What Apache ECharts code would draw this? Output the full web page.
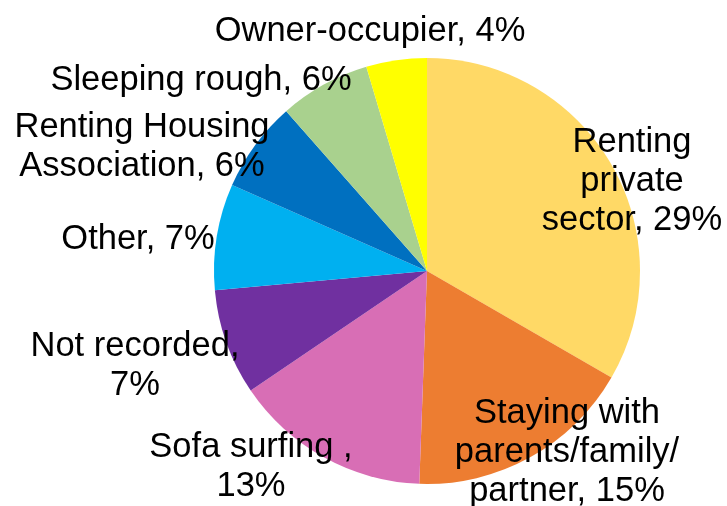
<!DOCTYPE html>
<html>
<head>
<meta charset="utf-8">
<script src="https://cdn.jsdelivr.net/npm/echarts@6/dist/echarts.min.js"></script>
<style>
html,body{margin:0;padding:0;background:#fff;}
#chart{width:727px;height:506px;}
</style>
</head>
<body>
<div id="chart"></div>
<script>
// Data
var categories = ['Renting\nprivate\nsector', 'Staying with\nparents/family/\npartner', 'Sofa surfing ', 'Not recorded', 'Other', 'Renting Housing\nAssociation', 'Sleeping rough', 'Owner-occupier'];
var values = [29, 15, 13, 7, 7, 6, 6, 4];
var wrapAfterComma = [false, false, true, true, false, false, false, false];

// Styling / layout (not data)
var colors = ['#FFD966', '#ED7D31', '#D86EB5', '#7030A0', '#00B0F0', '#0070C0', '#A9D18E', '#FFFF00'];
var labelAnchors = [[632, 181], [567, 452], [251, 467], [135, 366], [138, 239], [142, 147], [201, 80], [370, 31]];

var chart = echarts.init(document.getElementById('chart'));
chart.setOption({
  animation: false,
  backgroundColor: '#ffffff',
  series: [{
    type: 'pie',
    center: [427, 271],
    radius: 213,
    startAngle: 90,
    clockwise: true,
    avoidLabelOverlap: false,
    data: categories.map(function (c, i) {
      return { name: c, value: values[i], itemStyle: { color: colors[i] } };
    }),
    itemStyle: { borderWidth: 0 },
    label: {
      show: true,
      position: 'inside',
      color: '#000',
      fontFamily: 'Liberation Sans, Arial, sans-serif',
      fontSize: 34.5,
      lineHeight: 39,
      align: 'center',
      formatter: function (p) {
        return p.name + ',' + (wrapAfterComma[p.dataIndex] ? '\n' : ' ') + p.value + '%';
      }
    },
    labelLine: { show: false },
    labelLayout: function (p) {
      var a = labelAnchors[p.dataIndex];
      return { x: a[0], y: a[1], align: 'center', verticalAlign: 'middle' };
    }
  }]
});
</script>
</body>
</html>
